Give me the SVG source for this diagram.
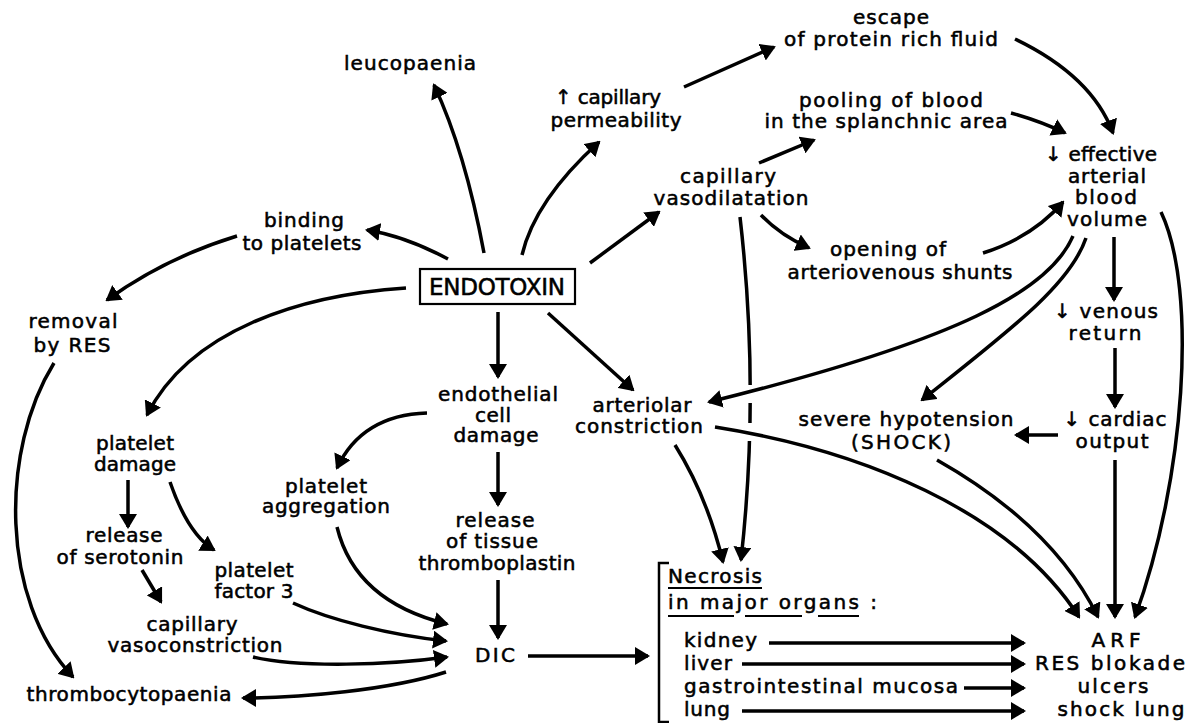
<svg xmlns="http://www.w3.org/2000/svg" width="1201" height="723" viewBox="0 0 1201 723">
  <style>
    .t { font-family: "DejaVu Sans", "Liberation Sans", sans-serif; font-size: 20px; fill: #000; stroke: #000; stroke-width: 0.55px; }
    .c { text-anchor: middle; }
    .big { font-size: 23px; }
    .ln { fill: none; stroke: #000; stroke-width: 3.5; stroke-linecap: butt; marker-end: url(#ah); }
    .ul { stroke: #000; stroke-width: 2; }
    .gap { fill: #fff; stroke: none; }
  </style>
  <defs>
    <marker id="ah" viewBox="0 -9 15 18" refX="13" refY="0" markerWidth="15" markerHeight="18" orient="auto" markerUnits="userSpaceOnUse">
      <path d="M0,-9 L15,0 L0,9 z" fill="#000"/>
    </marker>
  </defs>
  <rect width="1201" height="723" fill="#fff"/>

  <g id="connectors">
    <!-- long line from capillary vasodilatation to necrosis, broken where other lines cross it -->
    <path class="ln" d="M740,217 Q760,390 741,560"/>
    <rect class="gap" x="743" y="385" width="14" height="18"/>
    <rect class="gap" x="742" y="423" width="14" height="18"/>

    <path class="ln" d="M484,253 Q465,151 434,85"/>
    <path class="ln" d="M522,255 Q535,200 599,142"/>
    <path class="ln" d="M684,87 L774,47"/>
    <path class="ln" d="M1015,39 Q1092,76 1113,133"/>
    <path class="ln" d="M1011,113 Q1040,121 1065,133"/>
    <path class="ln" d="M448,259 Q405,236 367,230"/>
    <path class="ln" d="M237,236 Q165,258 107,300"/>
    <path class="ln" d="M406,288 C300,295 190,330 147,415"/>
    <path class="ln" d="M498,312 L498,377"/>
    <path class="ln" d="M548,313 L633,390"/>
    <path class="ln" d="M590,263 L659,212"/>
    <path class="ln" d="M759,163 L814,140"/>
    <path class="ln" d="M761,215 Q780,235 809,248"/>
    <path class="ln" d="M983,253 Q1033,237 1063,202"/>
    <path class="ln" d="M1114,237 L1114,300"/>
    <path class="ln" d="M1115,348 L1115,407"/>
    <path class="ln" d="M1058,435 L1016,435"/>
    <path class="ln" d="M1073,236 C1050,290 960,340 709,402"/>
    <path class="ln" d="M1086,238 C1070,285 1010,330 922,400"/>
    <path class="ln" d="M1161,212 C1198,290 1185,480 1135,617"/>
    <path class="ln" d="M715,427 C860,450 1010,510 1079,617"/>
    <path class="ln" d="M937,460 C990,490 1060,540 1098,617"/>
    <path class="ln" d="M1115,460 L1115,617"/>
    <path class="ln" d="M675,445 Q707,496 723,562"/>
    <path class="ln" d="M427,413 Q362,415 337,468"/>
    <path class="ln" d="M498,452 L498,505"/>
    <path class="ln" d="M498,580 L498,638"/>
    <path class="ln" d="M128,480 L128,527"/>
    <path class="ln" d="M170,482 Q188,534 214,550"/>
    <path class="ln" d="M142,570 L161,602"/>
    <path class="ln" d="M337,527 C350,580 390,610 447,624"/>
    <path class="ln" d="M293,603 C330,620 390,635 446,641"/>
    <path class="ln" d="M253,657 C300,668 390,665 447,657"/>
    <path class="ln" d="M446,672 C390,690 300,698 243,698"/>
    <path class="ln" d="M54,363 C0,450 0,600 73,677"/>
    <path class="ln" d="M528,656 L648,656"/>
    <path class="ln" d="M769,643 L1024,643"/>
    <path class="ln" d="M742,664 L1024,664"/>
    <path class="ln" d="M964,688 L1024,688"/>
    <path class="ln" d="M742,711 L1024,711"/>
  </g>

  <g id="n-endotoxin">
    <rect x="420" y="269" width="155" height="35" fill="#fff" stroke="#000" stroke-width="2.2"/>
    <text class="t c big" x="497" y="295" textLength="136">ENDOTOXIN</text>
  </g>
  <g id="n-leucopaenia">
    <text class="t c" x="410" y="70" textLength="132">leucopaenia</text>
  </g>
  <g id="n-permeability">
    <text class="t c" x="608" y="104" textLength="106">↑ capillary</text>
    <text class="t c" x="616" y="127" textLength="131">permeability</text>
  </g>
  <g id="n-escape">
    <text class="t c" x="891" y="24" textLength="76">escape</text>
    <text class="t c" x="891" y="46" textLength="214">of protein rich fluid</text>
  </g>
  <g id="n-pooling">
    <text class="t c" x="891" y="107" textLength="184">pooling of blood</text>
    <text class="t c" x="886" y="128" textLength="243">in the splanchnic area</text>
  </g>
  <g id="n-effective">
    <text class="t c" x="1101" y="161" textLength="112">↓ effective</text>
    <text class="t c" x="1107" y="183" textLength="78">arterial</text>
    <text class="t c" x="1106" y="204" textLength="62">blood</text>
    <text class="t c" x="1107" y="226" textLength="80">volume</text>
  </g>
  <g id="n-binding">
    <text class="t c" x="304" y="227" textLength="80">binding</text>
    <text class="t c" x="302" y="250" textLength="119">to platelets</text>
  </g>
  <g id="n-vasodilatation">
    <text class="t c" x="728" y="183" textLength="96">capillary</text>
    <text class="t c" x="731" y="205" textLength="155">vasodilatation</text>
  </g>
  <g id="n-opening">
    <text class="t c" x="888" y="256" textLength="116">opening of</text>
    <text class="t c" x="900" y="279" textLength="225">arteriovenous shunts</text>
  </g>
  <g id="n-removal">
    <text class="t c" x="73" y="328" textLength="89">removal</text>
    <text class="t c" x="72" y="352" textLength="77">by RES</text>
  </g>
  <g id="n-venous">
    <text class="t c" x="1106" y="318" textLength="104">↓ venous</text>
    <text class="t c" x="1105" y="340" textLength="73">return</text>
  </g>
  <g id="n-endothelial">
    <text class="t c" x="498" y="401" textLength="120">endothelial</text>
    <text class="t c" x="493" y="422" textLength="36">cell</text>
    <text class="t c" x="496" y="442" textLength="85">damage</text>
  </g>
  <g id="n-arteriolar">
    <text class="t c" x="642" y="412" textLength="99">arteriolar</text>
    <text class="t c" x="639" y="433" textLength="128">constriction</text>
  </g>
  <g id="n-hypotension">
    <text class="t c" x="906" y="426" textLength="215">severe hypotension</text>
    <text class="t c" x="901" y="449" textLength="100">(SHOCK)</text>
  </g>
  <g id="n-cardiac">
    <text class="t c" x="1115" y="426" textLength="103">↓ cardiac</text>
    <text class="t c" x="1112" y="448" textLength="73">output</text>
  </g>
  <g id="n-platelet-damage">
    <text class="t c" x="135" y="450" textLength="78">platelet</text>
    <text class="t c" x="135" y="471" textLength="82">damage</text>
  </g>
  <g id="n-aggregation">
    <text class="t c" x="326" y="493" textLength="82">platelet</text>
    <text class="t c" x="326" y="513" textLength="128">aggregation</text>
  </g>
  <g id="n-serotonin">
    <text class="t c" x="124" y="542" textLength="77">release</text>
    <text class="t c" x="120" y="564" textLength="127">of serotonin</text>
  </g>
  <g id="n-thromboplastin">
    <text class="t c" x="495" y="527" textLength="79">release</text>
    <text class="t c" x="492" y="548" textLength="92">of tissue</text>
    <text class="t c" x="497" y="570" textLength="157">thromboplastin</text>
  </g>
  <g id="n-factor3">
    <text class="t c" x="254" y="577" textLength="79">platelet</text>
    <text class="t c" x="254" y="598" textLength="79">factor 3</text>
  </g>
  <g id="n-vasoconstriction">
    <text class="t c" x="192" y="631" textLength="91">capillary</text>
    <text class="t c" x="195" y="652" textLength="175">vasoconstriction</text>
  </g>
  <g id="n-dic">
    <text class="t c" x="495" y="662" textLength="40">DIC</text>
  </g>
  <g id="n-thrombocytopaenia">
    <text class="t c" x="129" y="701" textLength="205">thrombocytopaenia</text>
  </g>
  <g id="n-necrosis">
    <path d="M669,563 L659,563 L659,722 L669,722" fill="none" stroke="#000" stroke-width="2.5"/>
    <text class="t" x="668" y="583" textLength="94">Necrosis</text>
    <line class="ul" x1="668" y1="588" x2="762" y2="588"/>
    <text class="t" x="668" y="609" textLength="209">in major organs :</text>
    <line class="ul" x1="668" y1="616" x2="734" y2="616"/>
    <line class="ul" x1="745" y1="616" x2="802" y2="616"/>
    <line class="ul" x1="818" y1="616" x2="859" y2="616"/>
    <text class="t" x="684" y="647" textLength="73">kidney</text>
    <text class="t" x="684" y="670" textLength="48">liver</text>
    <text class="t" x="684" y="693" textLength="274">gastrointestinal mucosa</text>
    <text class="t" x="684" y="716" textLength="46">lung</text>
  </g>
  <g id="n-outcomes">
    <text class="t c" x="1116" y="647" textLength="49">ARF</text>
    <text class="t c" x="1110" y="670" textLength="150">RES blokade</text>
    <text class="t c" x="1113" y="693" textLength="71">ulcers</text>
    <text class="t c" x="1121" y="716" textLength="127">shock lung</text>
  </g>
</svg>
